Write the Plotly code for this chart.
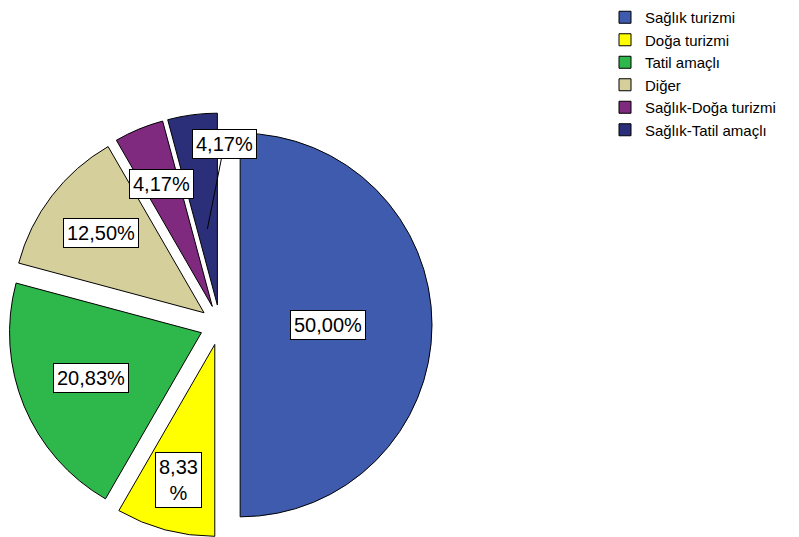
import math
import plotly.graph_objects as go

categories = ["Sağlık turizmi", "Doğa turizmi", "Tatil amaçlı", "Diğer",
              "Sağlık-Doğa turizmi", "Sağlık-Tatil amaçlı"]
counts = [12, 2, 5, 3, 1, 1]
colors = ["#3F5BAD", "#FFFF00", "#2EB84B", "#D5CF9C", "#7F2A7F", "#2B2E78"]

W, H = 799, 537
PULL = 0.105
# label placement (fraction of radius from slice apex) and leader offsets
label_frac = [0.46, 0.73, 0.62, 0.68, 0.69, 0.40]
label_offset = [None, None, None, None, None, (17, -85)]

# pie domain in pixels
cx, cy, R_out = 220, 325, 212
dom_x = [(cx - R_out) / W, (cx + R_out) / W]
dom_y = [1 - (cy + R_out) / H, 1 - (cy - R_out) / H]

total = sum(counts)
pct = [c / total * 100 for c in counts]
labels_txt = [f"{p:.2f}".replace(".", ",") + "%" for p in pct]
labels_txt[1] = labels_txt[1].replace("%", "<br>%")

fig = go.Figure(go.Pie(
    labels=categories, values=counts, sort=False, direction="clockwise",
    rotation=0, pull=[PULL] * len(counts), textinfo="none",
    marker=dict(colors=colors, line=dict(color="black", width=1)),
    domain=dict(x=dom_x, y=dom_y), showlegend=True,
))

r = R_out / (1 + PULL)
cum = 0
annotations = []
for i, c in enumerate(counts):
    mid = (cum + c / 2) / total * 2 * math.pi
    cum += c
    sx, sy = math.sin(mid), -math.cos(mid)
    ax0 = cx + PULL * r * sx
    ay0 = cy + PULL * r * sy
    px = ax0 + label_frac[i] * r * sx
    py = ay0 + label_frac[i] * r * sy
    ann = dict(x=px / W, y=1 - py / H, xref="paper", yref="paper",
               xanchor="center", yanchor="middle",
               text=labels_txt[i], font=dict(family="Liberation Sans, Arial", size=20, color="black"),
               bgcolor="white", bordercolor="black", borderwidth=1, borderpad=3)
    if label_offset[i] is None:
        ann["showarrow"] = False
    else:
        ann.update(showarrow=True, arrowhead=0, arrowwidth=1, arrowcolor="black",
                   ax=label_offset[i][0], ay=label_offset[i][1], standoff=0)
    annotations.append(ann)

fig.update_layout(
    width=W, height=H, margin=dict(l=0, r=0, t=0, b=0),
    paper_bgcolor="white", plot_bgcolor="white",
    annotations=annotations,
    legend=dict(x=605 / W, y=1 - 1 / H, xanchor="left", yanchor="top",
                font=dict(family="Liberation Sans, Arial", size=15, color="black"),
                itemwidth=30, tracegroupgap=0, bgcolor="rgba(0,0,0,0)"),
)
fig.write_html("out.html", config={"displayModeBar": False},
               post_script="document.body.style.margin='0';document.body.style.padding='0';")
